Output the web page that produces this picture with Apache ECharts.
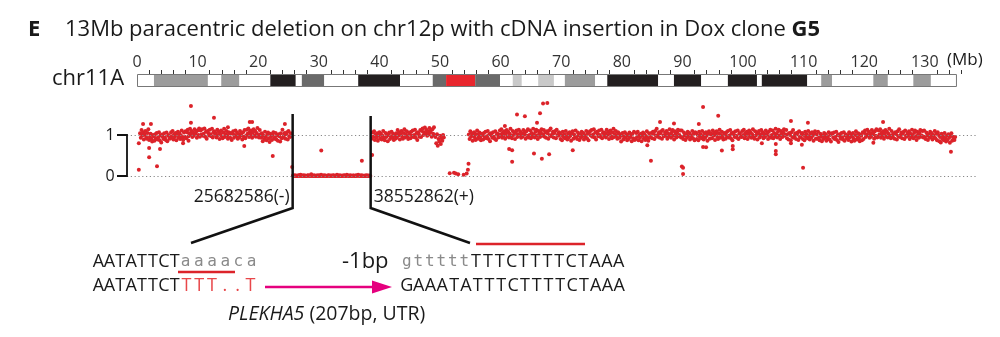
<!DOCTYPE html>
<html><head><meta charset="utf-8">
<script src="https://cdn.jsdelivr.net/npm/echarts@6/dist/echarts.min.js"></script>
<style>html,body{margin:0;padding:0;background:#fff}#c{width:1000px;height:337px}</style>
</head><body><div id="c"></div><script>
// ---------- data ----------
const chrLenMb = 135.3;
const axisMaxMb = 136;
const majorTickMb = [0,10,20,30,40,50,60,70,80,90,100,110,120,130];
const bandStart = [0,2.8,11.7,13.9,16.9,22.0,26.2,27.2,30.9,36.5,43.4,48.8,51.0,55.8,59.9,62.0,63.5,66.2,68.8,70.6,75.6,77.6,86.0,88.6,93.1,97.5,102.3,103.1,110.6,112.9,114.7,121.5,123.9,128.1,131.0];
const bandEnd   = [2.8,11.7,13.9,16.9,22.0,26.2,27.2,30.9,36.5,43.4,48.8,51.0,55.8,59.9,62.0,63.5,66.2,68.8,70.6,75.6,77.6,86.0,88.6,93.1,97.5,102.3,103.1,110.6,112.9,114.7,121.5,123.9,128.1,131.0,135.3];
const bandStain = ['w','g50','w','g50','w','k','w','g75','w','k','w','g75','cen','g75','w','g25','w','g25','w','g50','w','k','w','k','w','k','w','k','w','g50','w','g50','w','g50','w'];

// copy-number per 0.125 Mb bin, in hundredths (100 = CN 1)
const binMb = 0.125;
const seg1Start = 0.5;
const seg1CNx100 = [
104,93,112,99,107,89,102,110,96,91,105,114,88,95,103,91,84,100,97,86,102,92,105,89,94,107,87,99,82,101,96,90,104,93,88,106,85,98,100,91,
92,107,97,110,89,102,95,105,87,100,108,93,104,90,99,111,94,88,106,96,109,92,107,113,97,104,115,101,110,95,106,98,114,103,108,93,111,100,116,96,
111,101,114,98,103,116,96,108,91,110,105,99,113,102,97,115,94,107,109,100,105,94,113,100,108,90,103,111,97,92,106,115,95,102,110,98,91,107,104,93,
105,88,103,109,93,100,111,97,106,91,102,94,110,99,104,89,107,96,112,92,98,113,103,116,95,108,101,111,93,106,114,99,110,96,105,117,100,94,112,102,
93,104,85,98,90,108,95,87,101,106,92,83,103,96,88,100,107,91,94,105,89,99,86,102,97,84,104,92,113,94,99,105,91,102,107,89,110,97,95,104];
const delStart = 25.75;
const delCNx100 = [1,0,2,0,1,0,0,2,1,0,3,0,1,0,2,0,1,0,0,1,2,0,1,0,4,0,1,0,2,0,0,1,0,2,0,1,0,3,0,1,
0,2,0,1,0,0,1,2,0,1,0,1,0,2,1,0,0,1,3,0,1,0,2,0,0,1,0,1,2,0,0,3,1,0,1,0,2,0,0,1,
1,0,0,2,0,1,3,0,1,0,2,0,1,0,0,1,0,2,0,1,0,1,0];
const seg2Start = 38.75;
const seg2CNx100 = [
91,106,96,109,88,101,94,104,86,99,107,92,103,89,98,110,93,87,105,95,102,85,100,106,90,97,108,94,103,88,99,91,
104,93,112,99,107,89,102,110,96,91,105,114,94,101,109,97,90,106,103,92,108,98,111,95,100,113,93,105,88,107,102,96,
112,95,110,116,100,107,118,104,113,98,109,101,117,106,111,96,114,103,119,99,
95,80,102,74,90,84,98,78,92,86,100,94];
const seg3Start = 54.75;
const seg3CNx100 = [
101,90,109,96,104,86,99,107,93,88,102,111,91,98,106,94,87,103,100,89,105,95,108,92,97,110,90,102,85,104,99,93,107,96,91,109,88,101,103,94,
96,111,101,114,93,106,99,109,91,104,112,97,108,94,103,115,98,92,110,100,107,90,105,111,95,102,113,99,108,93,104,96,112,101,106,91,109,98,114,94,
100,111,92,105,97,115,102,94,108,113,99,90,110,103,95,107,114,98,101,112,96,106,93,109,104,91,111,99,116,97,102,108,94,105,110,92,113,100,98,107,
105,90,100,87,108,95,102,92,110,97,89,104,93,107,98,86,103,109,91,101,94,111,96,90,106,99,88,102,93,108,97,105,89,100,95,110,92,103,87,107,
109,99,112,96,101,114,94,106,89,108,103,97,111,100,95,113,92,105,107,98,105,94,113,100,108,90,103,111,97,92,106,115,95,102,110,98,91,107,104,93,
101,84,99,105,89,96,107,93,102,87,98,90,106,95,100,85,103,92,108,88,90,105,95,108,87,100,93,103,85,98,106,91,102,88,97,109,92,86,104,94,
95,105,92,108,103,90,110,98,115,96,101,107,93,104,109,91,112,99,97,106,99,110,91,104,96,114,101,93,107,112,98,89,109,102,94,106,113,97,100,111,
94,111,96,90,106,99,88,102,93,108,97,105,89,100,95,110,92,103,87,107,105,90,100,87,108,95,102,92,110,97,89,104,93,107,98,86,103,109,91,101,
103,92,111,98,106,88,101,109,95,90,104,113,93,100,108,96,89,105,102,91,107,97,110,94,99,112,92,104,87,106,101,95,109,98,93,111,90,103,105,96,
95,110,100,113,92,105,98,108,90,103,111,96,107,93,102,114,97,91,109,99,106,89,104,110,94,101,112,98,107,92,103,95,111,100,105,90,108,97,113,93,
100,111,92,105,97,115,102,94,108,113,99,90,110,103,95,107,114,98,101,112,92,102,89,105,100,87,107,95,112,93,98,104,90,101,106,88,109,96,94,103,
105,90,100,87,108,95,102,92,110,97,89,104,93,107,98,86,103,109,91,101,91,108,93,87,103,96,85,99,90,105,94,102,86,97,92,107,89,100,84,104,
103,93,106,90,95,108,88,100,83,102,97,91,105,94,89,107,86,99,101,92,99,88,107,94,102,84,97,105,91,86,100,109,89,96,104,92,85,101,98,87,
107,90,105,111,95,102,113,99,108,93,104,96,112,101,106,91,109,98,114,94,96,111,101,114,93,106,99,109,91,104,112,97,108,94,103,115,98,92,110,100,
94,104,91,107,102,89,109,97,114,95,100,106,92,103,108,90,111,98,96,105,98,109,90,103,95,113,100,92,106,111,97,88,108,101,93,105,112,96,99,110,
94,111,96,90,106,99,88,102,93,108,97,105,89,100,95,110,92,103,87,107,100,85,95,82,103,90,97,87,105,92,84,99,88,102,93,81,98,104,86,96,
92,88,95];
// isolated probes away from the main band: position (Mb) and copy number
const extraMb = [0.3,0.3,1.0,2.3,2.0,2.0,3.3,3.8,8.9,8.9,8.5,7.6,12.7,17.7,18.6,19.0,22.4,24.4,15.0,25.6,
30.4,37.1,38.8,
51.6,52.3,52.6,53.0,53.9,54.4,54.6,54.7,
60.7,61.4,61.9,61.9,62.7,64.0,65.5,66.0,66.5,66.8,67.0,67.7,68.0,
71.9,84.2,84.8,86.3,88.6,89.9,90.1,90.1,92.7,93.4,93.4,93.9,95.9,96.5,98.3,98.3,
103.1,105.4,105.4,105.4,107.9,107.9,109.7,109.9,110.7,121.5,123.1,134.3];
const extraCN = [0.15,0.80,1.27,1.27,0.68,0.46,0.24,0.66,1.71,1.30,0.86,0.80,1.42,0.73,1.32,1.32,0.49,1.27,1.19,0.22,
0.62,0.37,0.51,
0.07,0.08,0.06,0.04,0.03,0.06,0.15,0.30,
1.22,0.66,0.63,0.35,1.50,1.46,0.55,1.30,1.53,0.42,1.77,1.78,0.53,
0.63,0.75,0.37,1.32,1.28,0.23,0.20,0.05,1.27,1.68,0.71,0.70,1.47,0.62,0.73,0.65,
0.80,0.61,0.53,0.78,1.34,0.80,0.76,0.20,1.30,0.81,1.32,0.59];
const breakLeftMb = 25.682586, breakRightMb = 38.552862;
const breakLeftLabel = '25682586(-)', breakRightLabel = '38552862(+)';
const refLevels = [0, 1];

// ---------- styles ----------
const stainColor = {w:'#ffffff', g25:'#c9c9c9', g50:'#9c9c9c', g75:'#6a6a6a', k:'#231f20', cen:'#e8262d'};
const RED = '#dc232a';
const SANS = '"Open Sans", "Noto Sans", sans-serif';
const MONO = '"DejaVu Sans Mono", monospace';

function seg(start, arr){ return arr.map((v,i)=>[start + i*binMb, v/100]); }
const points = [].concat(seg(seg1Start, seg1CNx100), seg(delStart, delCNx100), seg(seg2Start, seg2CNx100), seg(seg3Start, seg3CNx100), extraMb.map((m,i)=>[m, extraCN[i]]));
const bandData = bandStart.map((s,i)=>[s, bandEnd[i], bandStain[i]]);
const minorTickMb = []; for (let v=0; v<=axisMaxMb; v+=2) if (v%10) minorTickMb.push(v);

const chart = echarts.init(document.getElementById('c'), null, {renderer:'canvas'});
const option = {
  animation:false,
  grid:[
    {left:137, top:74, width:824.2, height:13},
    {left:127, top:94, width:850, height:102.5}
  ],
  xAxis:[
    {gridIndex:0, type:'value', position:'top', min:0, max:axisMaxMb,
     axisLine:{show:false}, splitLine:{show:false},
     axisTick:{show:true, customValues:majorTickMb, length:7, lineStyle:{color:'#333', width:1}},
     axisLabel:{show:true, customValues:majorTickMb, fontSize:16, color:'#333', margin:4, fontFamily:SANS}},
    {gridIndex:0, type:'value', position:'top', offset:0, min:0, max:axisMaxMb,
     axisLine:{show:false}, splitLine:{show:false}, axisLabel:{show:false},
     axisTick:{show:true, customValues:minorTickMb, length:4, lineStyle:{color:'#333', width:1}}},
    {gridIndex:1, type:'value', min:-1.65, max:138.6, show:false}
  ],
  yAxis:[
    {gridIndex:0, type:'value', min:0, max:1, show:false},
    {gridIndex:1, type:'value', min:-0.5, max:2, show:false}
  ],
  series:[
    {type:'custom', xAxisIndex:0, yAxisIndex:0, silent:true, data:bandData,
     renderItem:(params, api)=>{
       const p0 = api.coord([api.value(0), 1]);
       const p1 = api.coord([api.value(1), 0]);
       return {type:'rect', shape:{x:p0[0], y:p0[1], width:p1[0]-p0[0], height:p1[1]-p0[1]},
               style:{fill:stainColor[bandData[params.dataIndex][2]]}};
     }},
    {type:'custom', xAxisIndex:0, yAxisIndex:0, silent:true, data:[[0, chrLenMb]], z:3,
     renderItem:(params, api)=>{
       const p0 = api.coord([api.value(0), 1]);
       const p1 = api.coord([api.value(1), 0]);
       return {type:'rect', shape:{x:p0[0]+0.5, y:p0[1]+0.5, width:p1[0]-p0[0]-1, height:p1[1]-p0[1]-1},
               style:{fill:null, stroke:'#777', lineWidth:1}};
     }},
    {type:'line', xAxisIndex:2, yAxisIndex:1, silent:true, symbol:'none',
     data:[[breakLeftMb,0],[breakRightMb,0]], lineStyle:{color:RED, width:2},
     markLine:{silent:true, symbol:'none', label:{show:false},
       lineStyle:{color:'#888', width:1, type:[1.2,2.6]},
       data:refLevels.map(v=>({yAxis:v}))}},
    {type:'scatter', xAxisIndex:2, yAxisIndex:1, silent:true, symbolSize:4,
     itemStyle:{color:RED, opacity:1}, data:points, z:4, large:false}
  ]
};
chart.setOption(option);

// ---------- annotations ----------
function txt(x, y, text, font, fill, align, vAlign){
  return {type:'text', x, y, silent:true, z:10,
    style:{text, font, fill: fill||'#222', align: align||'left', verticalAlign: vAlign||'middle',
           textAlign: align||'left', textVerticalAlign: vAlign||'middle'}};
}
function seqChars(str, x0, pitch, y, font, color){
  return str.split('').map((ch,i)=>txt(x0 + pitch*(i+0.5), y, ch, font, color, 'center', 'middle'));
}
const xL = chart.convertToPixel({xAxisIndex:2}, breakLeftMb);
const xR = chart.convertToPixel({xAxisIndex:2}, breakRightMb);
const y1 = chart.convertToPixel({yAxisIndex:1}, 1);
const y0 = chart.convertToPixel({yAxisIndex:1}, 0);

const UP = '18px ' + SANS;
const LO = '16px ' + MONO;
const g = [];
g.push(txt(28, 30, 'E', 'bold 22px ' + SANS, '#1a1a1a'));
g.push({type:'text', x:65, y:30, silent:true, z:10,
  style:{text:'13Mb paracentric deletion on chr12p with cDNA insertion in Dox clone {b|G5}',
    fontSize:22, fontFamily:SANS, fill:'#1a1a1a', verticalAlign:'middle', textVerticalAlign:'middle',
    rich:{b:{fontSize:22, fontFamily:SANS, fontWeight:'bold', fill:'#1a1a1a'}}}});
g.push(txt(52, 79, 'chr11A', '22px ' + SANS, '#1a1a1a'));
g.push(txt(947, 60, '(Mb)', '17px ' + SANS, '#1a1a1a'));
g.push(txt(110, y1, '1', '16px ' + SANS, '#1a1a1a', 'center'));
g.push(txt(110, y0, '0', '16px ' + SANS, '#1a1a1a', 'center'));
g.push({type:'polyline', silent:true, z:10, shape:{points:[[117,y1],[127,y1],[127,y0],[117,y0]]}, style:{stroke:'#111', lineWidth:1.8, fill:null}});
g.push({type:'polyline', silent:true, z:10, shape:{points:[[xL,114],[xL,208],[191,243]]}, style:{stroke:'#111', lineWidth:2.5, fill:null}});
g.push({type:'polyline', silent:true, z:10, shape:{points:[[xR,116],[xR,208],[470,243]]}, style:{stroke:'#111', lineWidth:2.5, fill:null}});
g.push(txt(xL-3, 197, breakLeftLabel, '17.5px ' + SANS, '#1a1a1a', 'right'));
g.push(txt(xR+3, 197, breakRightLabel, '17.5px ' + SANS, '#1a1a1a', 'left'));
// sequences
g.push(...seqChars('AATATTCT', 93, 10.9, 262, UP, '#1a1a1a'));
g.push(...seqChars('aaaaca', 179, 13.2, 262, LO, '#8a8a8a'));
g.push(...seqChars('AATATTCT', 93, 10.9, 286, UP, '#1a1a1a'));
g.push(...seqChars('TTT..T', 180, 12.8, 286, UP, '#e8474a'));
g.push(...seqChars('gttttt', 401, 11.5, 262, LO, '#8a8a8a'));
g.push(...seqChars('TTTCTTTTCTAAA', 470, 11.9, 262, UP, '#1a1a1a'));
g.push(...seqChars('GAAATATTTCTTTTCTAAA', 401, 11.8, 286, UP, '#1a1a1a'));
g.push({type:'line', silent:true, z:10, shape:{x1:178, y1:272, x2:235, y2:272}, style:{stroke:RED, lineWidth:2.5}});
g.push({type:'line', silent:true, z:10, shape:{x1:476, y1:244, x2:585, y2:244}, style:{stroke:RED, lineWidth:2.5}});
g.push(txt(342, 262, '-1bp', '22px ' + SANS, '#1a1a1a'));
g.push({type:'line', silent:true, z:10, shape:{x1:265, y1:287, x2:376, y2:287}, style:{stroke:'#e5007e', lineWidth:2.5}});
g.push({type:'polygon', silent:true, z:10, shape:{points:[[372,280.5],[392,287],[372,293.5]]}, style:{fill:'#e5007e'}});
g.push({type:'text', x:228, y:314, silent:true, z:10,
  style:{text:'{i|PLEKHA5} (207bp, UTR)', fontSize:19.5, fontFamily:SANS, fill:'#1a1a1a', verticalAlign:'middle', textVerticalAlign:'middle',
    rich:{i:{fontSize:19.5, fontFamily:SANS, fontStyle:'italic', fill:'#1a1a1a'}}}});
chart.setOption({graphic:{elements:g}});
</script></body></html>
